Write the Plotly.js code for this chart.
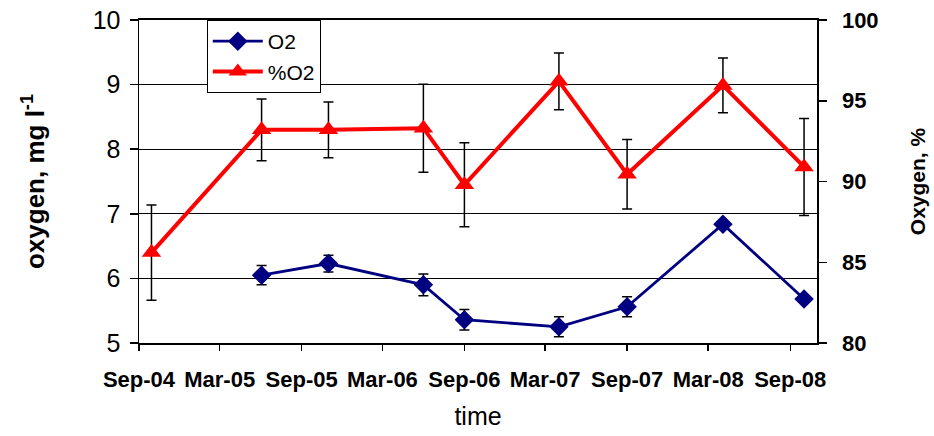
<!DOCTYPE html>
<html>
<head>
<meta charset="utf-8">
<script src="https://cdn.plot.ly/plotly-3.0.1.min.js"></script>
<style>html,body{margin:0;padding:0;background:#fff;}#chart{width:934px;height:436px;}</style>
</head>
<body>
<div id="chart"></div>
<script>
// sampling dates
const dates = ['2004-09-29','2005-06-03','2005-10-31','2006-06-01','2006-09-01','2007-04-01','2007-09-01','2008-04-03','2008-10-02'];
// O2, mg/l (no value at first date)
const o2Dates = dates.slice(1);
const o2Values = [6.05, 6.23, 5.90, 5.36, 5.25, 5.56, 6.84, 5.68];
const o2Errors = [0.15, 0.13, 0.17, 0.16, 0.155, 0.155, 0.05, 0.03];
// %O2 saturation
const pctValues = [85.6, 93.2, 93.2, 93.3, 89.8, 96.2, 90.45, 95.95, 90.9];
const pctErrors = [2.95, 1.91, 1.73, 2.72, 2.6, 1.75, 2.15, 1.7, 3.0];
const leftTicks = [5, 6, 7, 8, 9, 10];
const rightTicks = [80, 85, 90, 95, 100];

const FONT = 'Arial, "Liberation Sans", sans-serif';

const traces = [
  {
    name: 'O2', legendgroup: 'a', x: o2Dates, y: o2Values, yaxis: 'y', type: 'scatter', mode: 'lines+markers',
    line: {color: '#000080', width: 2.8},
    marker: {symbol: 'diamond', size: 15, color: '#000080'},
    error_y: {type: 'data', array: o2Errors, visible: true, color: '#000', thickness: 1.5, width: 5}
  },
  {
    name: '%O2', legendgroup: 'b', x: dates, y: pctValues, yaxis: 'y2', type: 'scatter', mode: 'lines+markers',
    line: {color: '#FF0000', width: 4},
    marker: {symbol: 'triangle-up', size: 17, color: '#FF0000'},
    error_y: {type: 'data', array: pctErrors, visible: true, color: '#000', thickness: 1.5, width: 5}
  }
];

const layout = {
  width: 934, height: 436,
  margin: {l: 139, r: 117, t: 20, b: 93},
  paper_bgcolor: '#fff', plot_bgcolor: '#fff',
  font: {family: FONT, color: '#000'},
  showlegend: true,
  legend: {
    x: 0.1, y: 1, xanchor: 'left', yanchor: 'top',
    bgcolor: '#fff', bordercolor: '#000', borderwidth: 1,
    font: {size: 21, family: FONT}, itemwidth: 50, tracegroupgap: 0,
    traceorder: 'grouped'
  },
  xaxis: {
    type: 'date', range: ['2004-09-01', '2008-10-31'],
    tick0: '2004-09-01', dtick: 'M6', tickformat: '%b-%y',
    ticks: 'outside', ticklen: 6, tickcolor: '#000', tickwidth: 1.5,
    showline: true, linecolor: '#000', linewidth: 2, mirror: true,
    showgrid: false, zeroline: false,
    tickfont: {size: 22, family: FONT, weight: 'bold'},
    ticklabelstandoff: 10,
    title: {text: 'time', font: {size: 25, family: FONT}, standoff: 16}
  },
  yaxis: {
    range: [5, 10], tickvals: leftTicks,
    ticks: 'outside', ticklen: 8, tickcolor: '#000', tickwidth: 1.5,
    showline: true, linecolor: '#000', linewidth: 1.5,
    showgrid: true, gridcolor: '#000', gridwidth: 1, zeroline: false,
    tickfont: {size: 25, family: FONT},
    ticklabelstandoff: 4,
    title: {text: 'oxygen, mg l<sup>-1</sup>', font: {size: 26, family: FONT, weight: 'bold'}, standoff: 40}
  },
  yaxis2: {
    overlaying: 'y', side: 'right', anchor: 'x',
    range: [80, 100], tickvals: rightTicks,
    ticks: 'outside', ticklen: 8, tickcolor: '#000', tickwidth: 1.5,
    showline: true, linecolor: '#000', linewidth: 1.5,
    showgrid: false, zeroline: false,
    tickfont: {size: 22, family: FONT, weight: 'bold'},
    ticklabelstandoff: 11,
    title: {text: 'Oxygen, %', font: {size: 21, family: FONT, weight: 'bold'}, standoff: 32}
  },
  yaxis3: {
    overlaying: 'y', side: 'right', anchor: 'x',
    range: [80, 100], tickvals: rightTicks, showticklabels: false,
    ticks: 'inside', ticklen: 7, tickcolor: '#000', tickwidth: 1.5,
    showline: false, showgrid: false, zeroline: false
  }
};

Plotly.newPlot('chart', traces, layout, {displayModeBar: false, staticPlot: true});
</script>
</body>
</html>
